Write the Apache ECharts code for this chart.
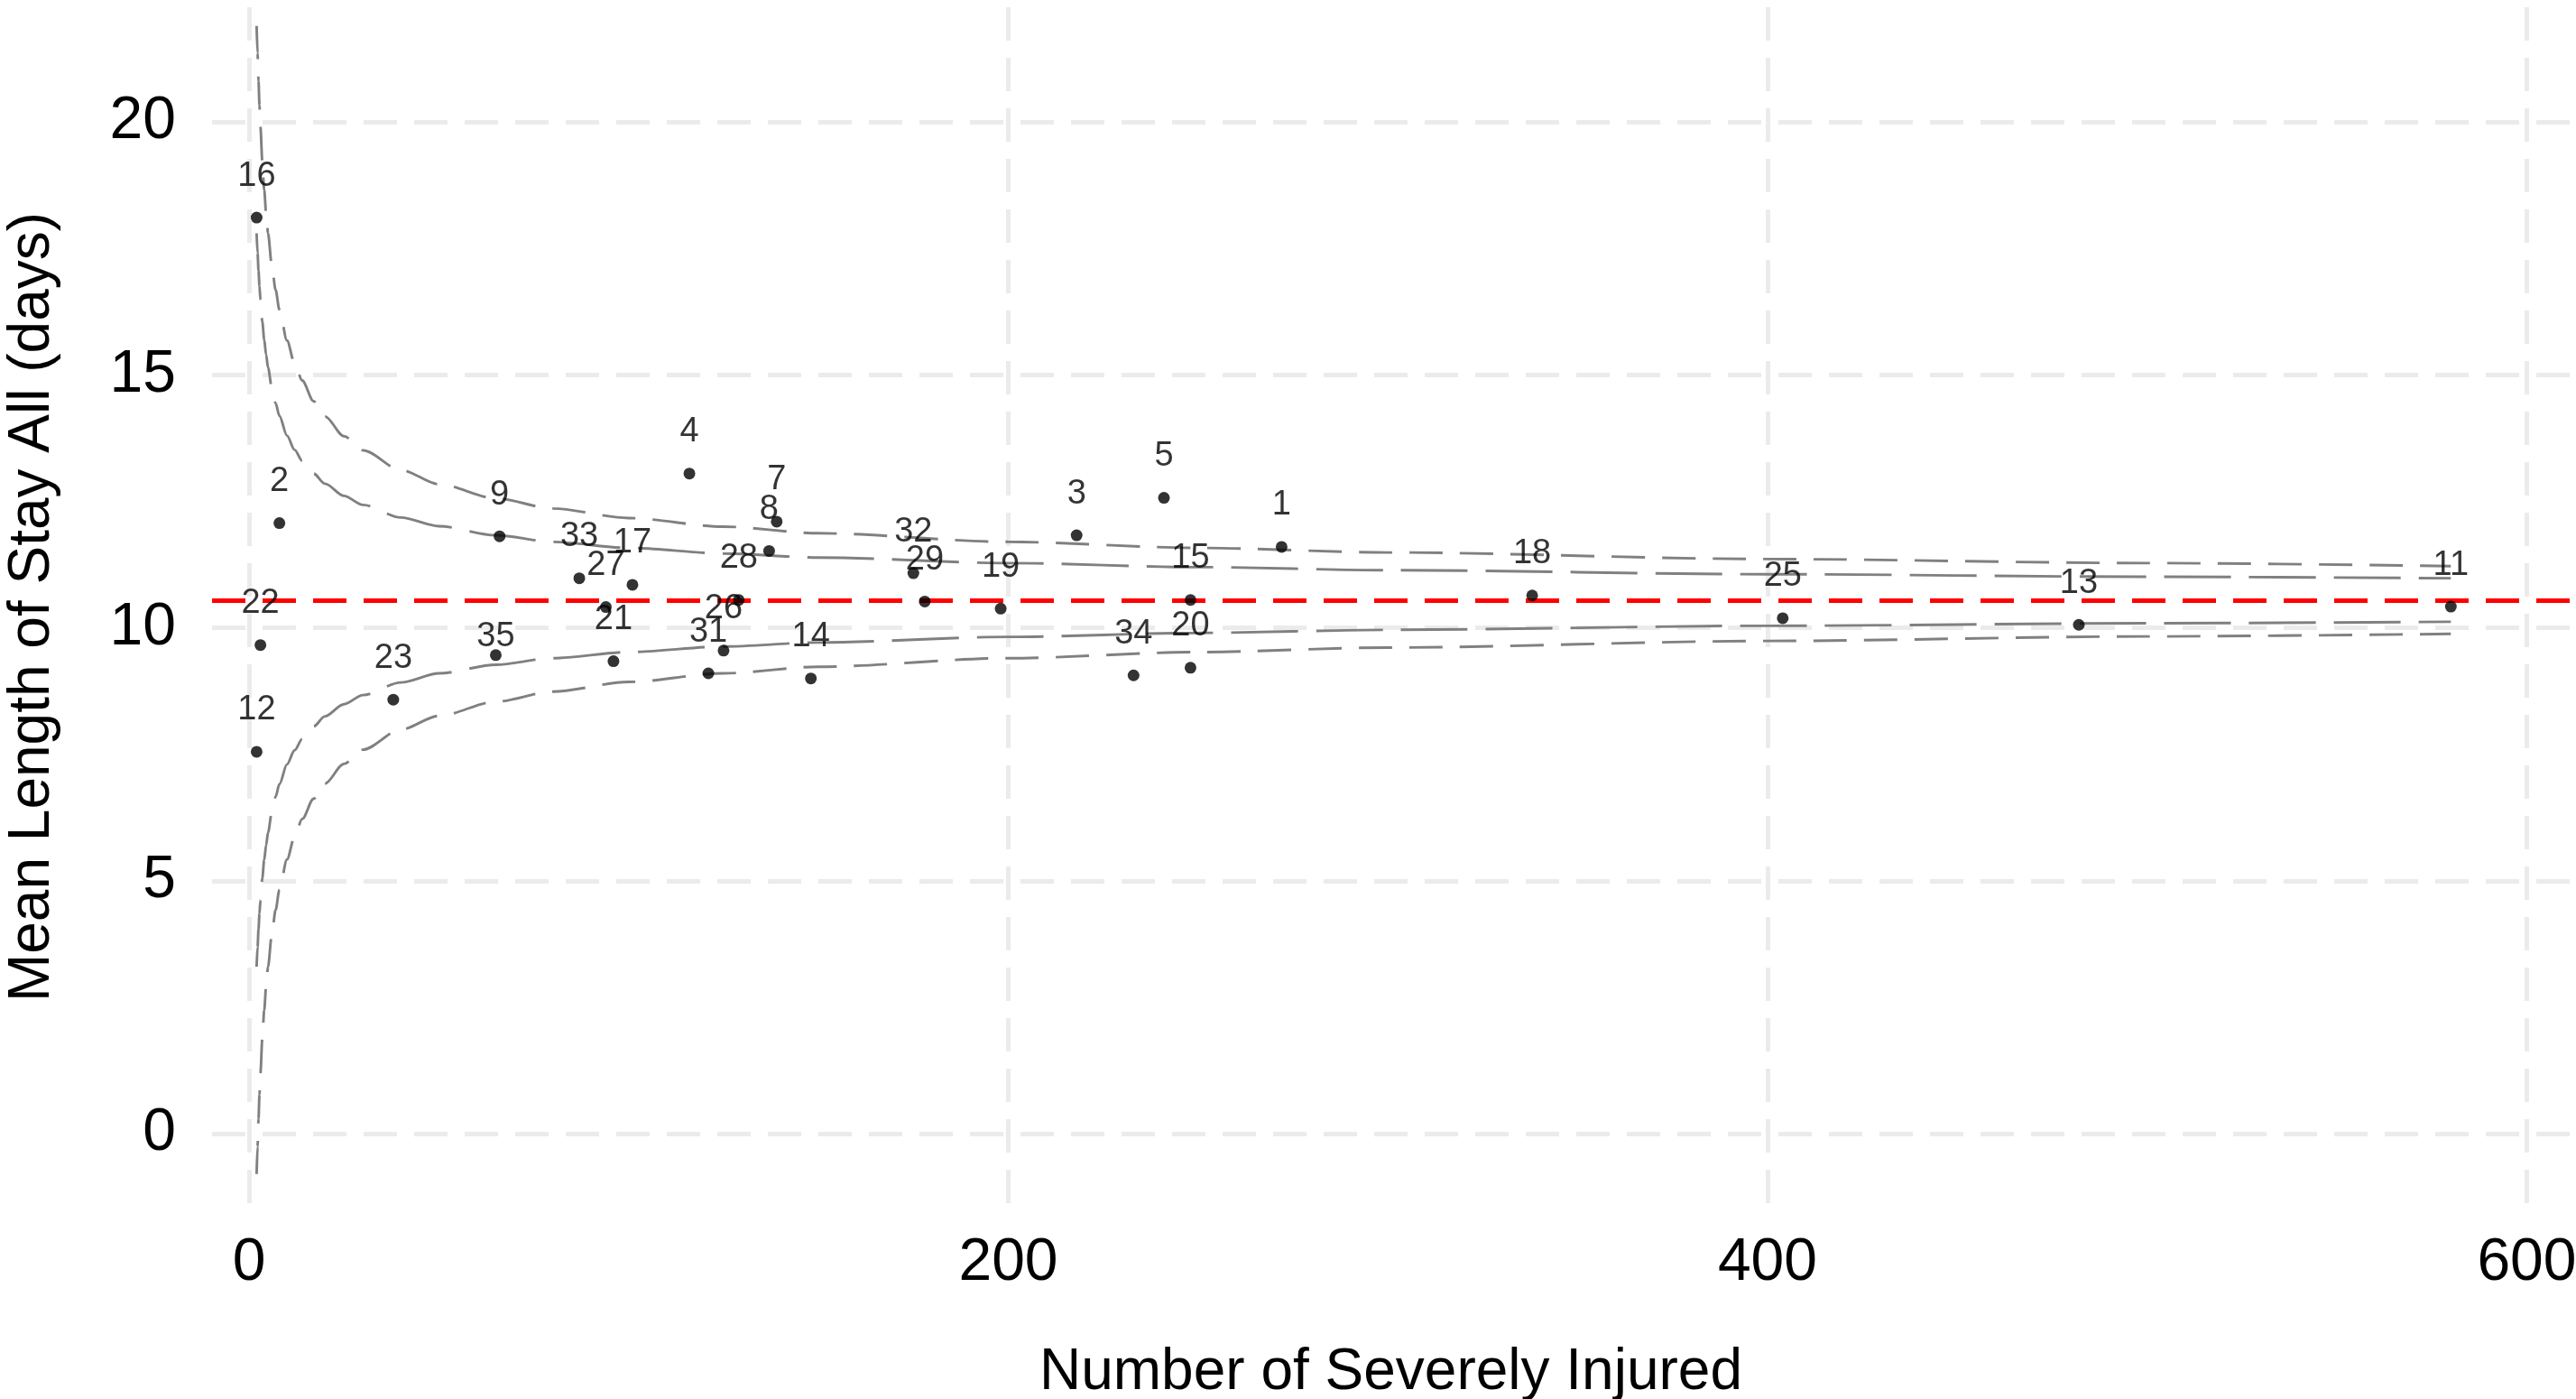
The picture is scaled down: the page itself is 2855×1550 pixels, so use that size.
<!DOCTYPE html>
<html>
<head>
<meta charset="utf-8">
<script src="https://cdn.jsdelivr.net/npm/echarts@6/dist/echarts.min.js"></script>
<style>
html,body{margin:0;padding:0;background:#ffffff;}
#chart{width:2855px;height:1550px;}
</style>
</head>
<body>
<div id="chart"></div>
<script>
// ---- data ----
const hospitalIds = [1, 2, 3, 4, 5, 7, 8, 9, 11, 12, 13, 14, 15, 16, 17, 18, 19, 20, 21, 22, 23, 25, 26, 27, 28, 29, 31, 32, 33, 34, 35];
const severelyInjured = [272, 8, 218, 116, 241, 139, 137, 66, 580, 2, 482, 148, 248, 2, 101, 338, 198, 248, 96, 3, 38, 404, 125, 94, 129, 178, 121, 175, 87, 233, 65];
const meanLengthOfStay = [11.60, 12.07, 11.83, 13.05, 12.57, 12.10, 11.52, 11.81, 10.42, 7.55, 10.06, 9.00, 10.55, 18.11, 10.85, 10.64, 10.38, 9.21, 9.34, 9.66, 8.58, 10.19, 9.55, 10.41, 10.55, 10.52, 9.10, 11.08, 10.98, 9.06, 9.46];
const overallMean = 10.55;

// funnel limits
const limitN       = [2, 2.25, 2.5, 2.75, 3, 3.5, 4, 4.5, 5, 6, 7, 8, 10, 12, 14, 17, 20, 25, 30, 40, 50, 65, 80, 100, 125, 150, 200, 250, 300, 400, 500, 580];
const inner95Upper = [17.80, 17.41, 17.06, 16.76, 16.49, 16.05, 15.70, 15.40, 15.15, 14.75, 14.44, 14.19, 13.80, 13.52, 13.30, 13.05, 12.85, 12.61, 12.43, 12.18, 12.01, 11.83, 11.70, 11.58, 11.47, 11.39, 11.28, 11.20, 11.14, 11.06, 11.01, 10.98];
const inner95Lower = [3.30, 3.69, 4.04, 4.35, 4.61, 5.05, 5.41, 5.70, 5.95, 6.35, 6.66, 6.91, 7.30, 7.58, 7.80, 8.05, 8.25, 8.49, 8.67, 8.92, 9.10, 9.27, 9.40, 9.52, 9.63, 9.71, 9.82, 9.90, 9.96, 10.04, 10.09, 10.12];
const outer998Upper = [21.90, 21.36, 20.81, 20.33, 19.91, 19.22, 18.66, 18.20, 17.80, 17.17, 16.68, 16.29, 15.68, 15.23, 14.89, 14.48, 14.18, 13.79, 13.51, 13.12, 12.84, 12.56, 12.36, 12.17, 12.00, 11.87, 11.70, 11.58, 11.49, 11.36, 11.28, 11.22];
const outer998Lower = [-0.80, -0.26, 0.29, 0.77, 1.19, 1.88, 2.44, 2.90, 3.30, 3.93, 4.42, 4.82, 5.42, 5.87, 6.22, 6.62, 6.92, 7.31, 7.59, 7.99, 8.26, 8.54, 8.74, 8.93, 9.10, 9.23, 9.40, 9.52, 9.61, 9.74, 9.83, 9.88];

const xTickValues = [0, 200, 400, 600];
const yTickValues = [0, 5, 10, 15, 20];
const xTitle = 'Number of Severely Injured';
const yTitle = 'Mean Length of Stay All (days)';

// ---- styling ----
const FONT = '"Liberation Sans", Arial, Helvetica, sans-serif';
const GREY = '#808080';
const labelNudge = {35: [0, -20]};

const chart = echarts.init(document.getElementById('chart'), null, {renderer: 'canvas'});

function pairs(xs, ys) { return xs.map((x, i) => [x, ys[i]]); }

function limitSeries(name, ys, dash) {
  return {
    name: name,
    type: 'line',
    data: pairs(limitN, ys),
    showSymbol: false,
    symbol: 'none',
    smooth: 0.3,
    smoothMonotone: 'x',
    silent: true,
    z: 2,
    lineStyle: {color: GREY, width: 2.9, type: dash}
  };
}

const pointData = hospitalIds.map((id, i) => {
  const item = {value: [severelyInjured[i], meanLengthOfStay[i]], name: String(id)};
  if (labelNudge[id]) item.label = {offset: labelNudge[id]};
  return item;
});

const option = {
  animation: false,
  backgroundColor: '#ffffff',
  grid: {left: 235, top: 8, right: 7, bottom: 213, containLabel: false, outerBoundsMode: 'none'},
  xAxis: {
    type: 'value',
    min: -9.745,
    max: 611.3,
    axisLine: {show: false},
    axisTick: {show: false, customValues: xTickValues},
    axisLabel: {customValues: xTickValues, fontSize: 66, color: '#000', margin: 30, fontFamily: FONT},
    splitLine: {show: true, lineStyle: {color: '#EBEBEB', width: 5, type: [37, 19]}},
    name: xTitle,
    nameLocation: 'middle',
    nameGap: 152,
    nameTextStyle: {fontSize: 64, color: '#000', fontFamily: FONT}
  },
  yAxis: {
    type: 'value',
    min: -1.446,
    max: 22.27,
    axisLine: {show: false},
    axisTick: {show: false, customValues: yTickValues},
    axisLabel: {customValues: yTickValues, fontSize: 66, color: '#000', margin: 40, fontFamily: FONT},
    splitLine: {show: true, lineStyle: {color: '#EBEBEB', width: 5, type: [37, 19]}},
    name: yTitle,
    nameLocation: 'middle',
    nameGap: 167,
    nameRotate: 90,
    nameTextStyle: {fontSize: 64, color: '#000', fontFamily: FONT}
  },
  series: [
    limitSeries('99.8% upper', outer998Upper, [37, 19]),
    limitSeries('99.8% lower', outer998Lower, [37, 19]),
    limitSeries('95% upper', inner95Upper, [74, 20]),
    limitSeries('95% lower', inner95Lower, [74, 20]),
    {
      name: 'mean',
      type: 'line',
      data: [],
      z: 3,
      silent: true,
      markLine: {
        silent: true,
        symbol: ['none', 'none'],
        label: {show: false},
        lineStyle: {color: '#FF0000', width: 5, type: [37, 19]},
        data: [{yAxis: overallMean}]
      }
    },
    {
      name: 'hospitals',
      type: 'scatter',
      data: pointData,
      symbol: 'circle',
      symbolSize: 13,
      z: 5,
      itemStyle: {color: '#000000'},
      label: {
        show: true,
        position: 'inside',
        offset: [0, -46],
        formatter: p => p.name,
        color: '#000',
        fontSize: 38,
        fontFamily: FONT
      }
    }
  ]
};

chart.setOption(option);
</script>
</body>
</html>
